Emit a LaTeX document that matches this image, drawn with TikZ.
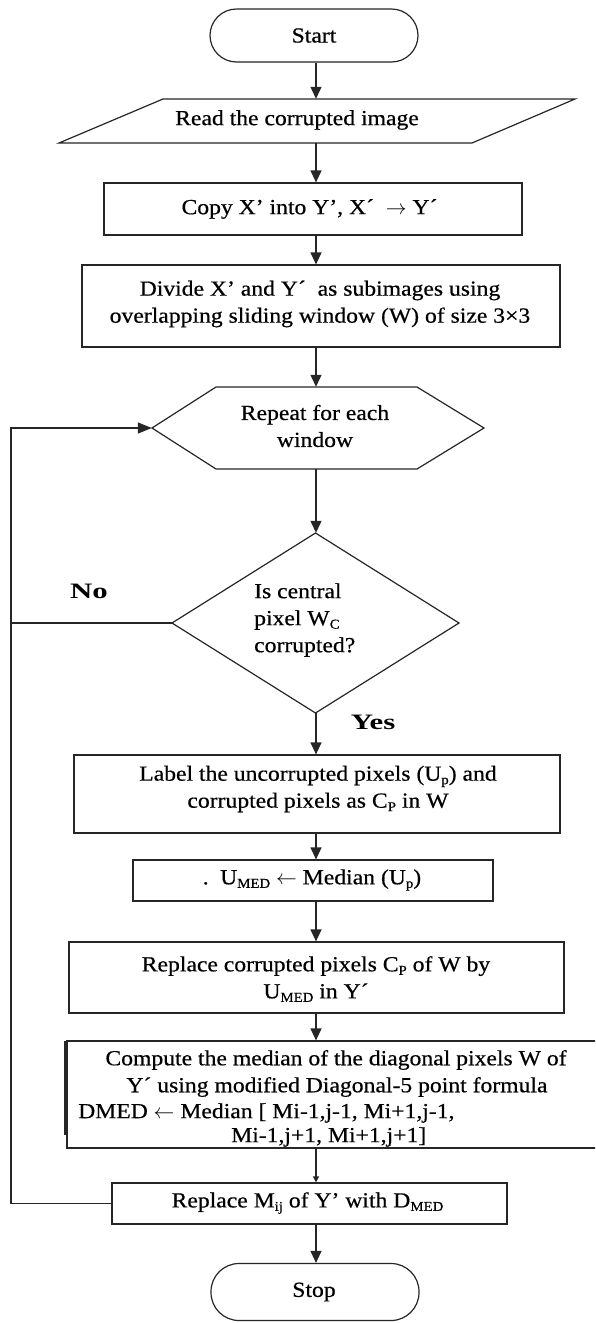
\documentclass[tikz,border=0pt]{standalone}
\usepackage{fontspec}
\setmainfont{Liberation Serif}[FakeStretch=1.1,FakeBold=0.5]
\newfontfamily\lblfont{Liberation Serif}[FakeStretch=1.4]
\usetikzlibrary{arrows.meta,calc}
\newcommand\lsub[1]{\raisebox{-0.35ex}{\fontsize{13.5}{13.5}\selectfont #1}}
\begin{document}
\begin{tikzpicture}[x=1pt,y=-1pt,
  every node/.style={inner sep=0pt, font=\fontsize{21.5}{27}\selectfont},
  lc/.style={draw=black!85, line width=1.2pt},
  box/.style={lc, rectangle, fill=white},
  txt/.style={align=center, text=black},
  ltxt/.style={align=left, text=black, anchor=west},
  yn/.style={font=\lblfont\bfseries\fontsize{22}{22}\selectfont, text=black},
  arr/.style={lc, -{Triangle[length=12pt,width=11pt]}},
  sarr/.style={lc, -{Triangle[length=6pt,width=6pt]}},
  larr/.style={lc, -{Triangle[length=14pt,width=11pt]}}]
\useasboundingbox (0,0) rectangle (595,1323);
\clip (0,0) rectangle (595,1323);
\coordinate (ax) at (316,0);

% Start
\node[box, rounded corners=26.5pt, minimum width=208, minimum height=53] (start) at (314,35.5) {};
\node[txt] (starttxt) at (314,35.5) {Start};

% Read (parallelogram)
\node[minimum width=516, minimum height=44] (read) at (317,121) {};
\draw[lc, fill=white] (163,99) -- (575,99) -- (472,143) -- (59,143) -- cycle;
\node[txt] (readtxt) at (297,120) {Read the corrupted image};

% Copy
\node[box, minimum width=418, minimum height=52] (copy) at (313,209) {};
\node[txt] (copytxt) at (309.5,209) {Copy X’ into Y’, X´ \ $\rightarrow$ Y´};

% Divide
\node[box, minimum width=478, minimum height=82] (divide) at (321,306) {};
\node[txt] (dividetxt) at (320,304) {Divide X’ and Y´ \ as subimages using\\overlapping sliding window (W) of size 3×3};

% Repeat (hexagon)
\node[minimum width=332, minimum height=82] (rep) at (318,428) {};
\draw[lc, fill=white] (152,428) -- (216,387) -- (417,387) -- (484,428) -- (417,469) -- (216,469) -- cycle;
\node[txt] (reptxt) at (315,426) {Repeat for each\\window};

% Decision (diamond)
\node[minimum width=287, minimum height=180] (dec) at (315.5,623) {};
\draw[lc, fill=white] (172,623) -- (315.5,533) -- (459,623) -- (315.5,713) -- cycle;
\node[ltxt] (dectxt) at (254,620) {Is central\\pixel W\lsub{C}\\corrupted?};

\node[yn] (no) at (89,591) {No};
\node[yn] (yes) at (373,722) {Yes};

% Label
\node[box, minimum width=486, minimum height=78] (label) at (317,794) {};
\node[txt] (labeltxt) at (318,789) {Label the uncorrupted pixels (U\lsub{p}) and\\corrupted pixels as C\lsub{P} in W};

% Umed
\node[box, minimum width=360, minimum height=41] (umed) at (313,880.5) {};
\node[txt] (umedtxt) at (312,880) {. \,U\lsub{MED} $\leftarrow$ Median (U\lsub{p})};

% Replace Cp
\node[box, minimum width=495, minimum height=71] (repl) at (316.5,977.5) {};
\node[txt] (repltxt) at (316,979) {Replace corrupted pixels C\lsub{P} of W by\\U\lsub{MED} in Y´};

% Compute
\node[box, minimum width=543, minimum height=107] (comp) at (338.5,1094.5) {};
\draw[draw=black!85, line width=3pt] (65.5,1041) -- (65.5,1135);
\node[txt] (c1) at (336,1060) {Compute the median of the diagonal pixels W of};
\node[txt] (c2) at (337,1087) {Y´ using modified Diagonal-5 point formula};
\node[ltxt] (c3) at (78,1113) {DMED $\leftarrow$ Median [ Mi-1,j-1, Mi+1,j-1,};
\node[ltxt] (c4) at (231,1137) {Mi-1,j+1, Mi+1,j+1]};

% Replace Mij
\node[box, minimum width=395, minimum height=41] (mij) at (309.5,1203.5) {};
\node[txt] (mijtxt) at (307.5,1203) {Replace M\lsub{ij} of Y’ with D\lsub{MED}};

% Stop
\node[box, rounded corners=28pt, minimum width=208, minimum height=57] (stop) at (315,1292) {};
\node[txt] (stoptxt) at (314,1292) {Stop};

% connectors
\draw[arr] (start.south -| ax) -- (read.north -| ax);
\draw[arr] (read.south -| ax) -- (copy.north -| ax);
\draw[arr] (copy.south -| ax) -- (divide.north -| ax);
\draw[arr] (divide.south -| ax) -- (rep.north -| ax);
\draw[arr] (rep.south -| ax) -- (dec.north -| ax);
\draw[arr] (dec.south -| ax) -- (label.north -| ax);
\draw[arr] (label.south -| ax) -- (umed.north -| ax);
\draw[arr] (umed.south -| ax) -- (repl.north -| ax);
\draw[arr] (repl.south -| ax) -- (comp.north -| ax);
\draw[sarr] (comp.south -| ax) -- (mij.north -| ax);
\draw[arr] (mij.south -| ax) -- (stop.north -| ax);

\coordinate (lb) at (11,1203.5);
\coordinate (lt) at (11,428);
\coordinate (ln) at (11,623);
\draw[larr] (mij.west) -- (lb) -- (lt) -- (rep.west);
\draw[lc] (dec.west) -- (ln);
\end{tikzpicture}
\end{document}
